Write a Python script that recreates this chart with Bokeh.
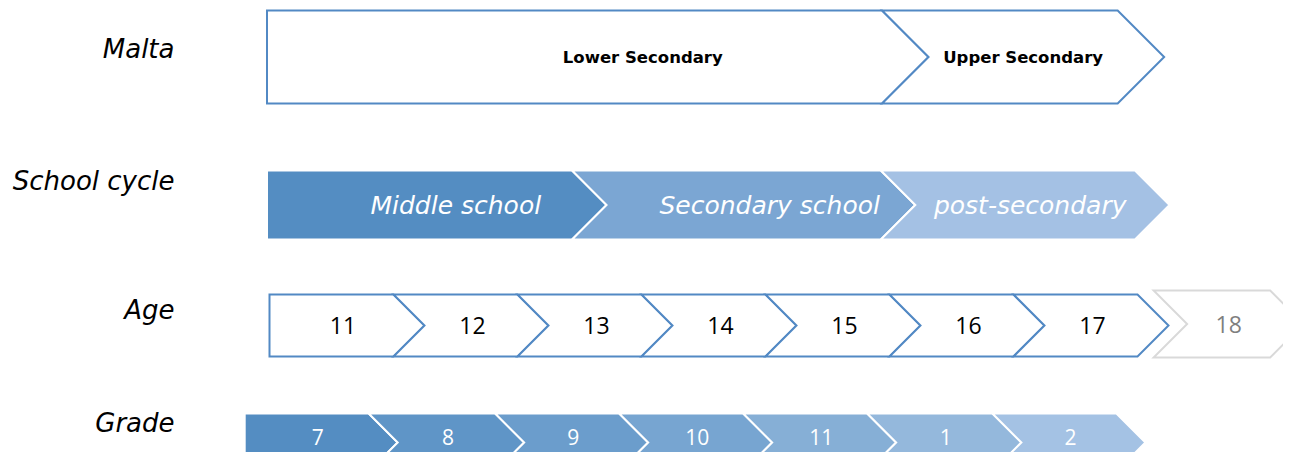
from bokeh.plotting import figure
from bokeh.models import Range1d
from bokeh.core.properties import value
from bokeh.embed import file_html
from bokeh.resources import INLINE

# ---------------- data (x in years of age) ----------------
row_labels = ["Malta", "School cycle", "Age", "Grade"]

malta_levels = ["Lower Secondary", "Upper Secondary"]
malta_start = [10.98, 15.94]
malta_end = [15.94, 17.84]

cycle_names = ["Middle school", "Secondary school", "post-secondary"]
cycle_start = [10.98, 13.44, 15.93]
cycle_end = [13.44, 15.93, 17.98]

ages = [11, 12, 13, 14, 15, 16, 17]
age_extra = [18]
age_extra_start = [18.13]
age_extra_end = [19.07]

grades = ["7", "8", "9", "10", "11", "1", "2"]
grade_start = [10.80, 11.80, 12.82, 13.82, 14.82, 15.82, 16.83]
grade_end = [11.80, 12.82, 13.82, 14.82, 15.82, 16.83, 17.83]

# ---------------- layout / style ----------------
W, H = 1283, 452
PX = 124.0                      # pixels per year
X0 = 11 - 269 / PX
X1 = X0 + W / PX

BLUE_LINE = "#5289C4"
CYCLE_COLORS = ["#548DC2", "#7BA6D3", "#A4C1E4"]
GRADE_COLORS = ["#548DC2", "#5F95C7", "#6B9DCC", "#77A5D1", "#86AFD6", "#94B8DC", "#A4C2E4"]

# row geometry in pixels from the top: (centre y, half height)
ROW_MALTA = (56.5, 46.5)
ROW_CYCLE = (204.5, 34.5)
ROW_AGE = (325.0, 31.0)
ROW_AGE_X = (323.5, 33.5)
ROW_GRADE = (442.0, 29.0)

p = figure(width=W, height=H, x_range=Range1d(X0, X1), y_range=Range1d(H, 0),
           output_backend="svg", toolbar_location=None,
           min_border=0, min_border_left=0, min_border_right=0,
           min_border_top=0, min_border_bottom=0)
p.axis.visible = False
p.grid.visible = False
p.outline_line_color = None
p.background_fill_color = "white"
p.border_fill_color = "white"


def chevrons(starts, ends, row, first_flat=True):
    yc, h = row
    d = h / PX
    xs, ys = [], []
    for i, (a, b) in enumerate(zip(starts, ends)):
        if i == 0 and first_flat:
            xs.append([a, b, b + d, b, a])
            ys.append([yc - h, yc - h, yc, yc + h, yc + h])
        else:
            xs.append([a, b, b + d, b, a, a + d])
            ys.append([yc - h, yc - h, yc, yc + h, yc + h, yc])
    return xs, ys


# Malta row (outlined)
xs, ys = chevrons(malta_start, malta_end, ROW_MALTA)
p.patches(xs, ys, fill_color="white", line_color=BLUE_LINE, line_width=2, line_join="miter")

# School cycle row (filled)
xs, ys = chevrons(cycle_start, cycle_end, ROW_CYCLE)
p.patches(xs, ys, fill_color=CYCLE_COLORS, line_color="white", line_width=2, line_join="miter")

# Age row (outlined)
age_start = [float(a) for a in ages]
age_end = [float(a + 1) for a in ages]
xs, ys = chevrons(age_start, age_end, ROW_AGE)
p.patches(xs, ys, fill_color="white", line_color=BLUE_LINE, line_width=2, line_join="miter")
xs, ys = chevrons(age_extra_start, age_extra_end, ROW_AGE_X, first_flat=False)
p.patches(xs, ys, fill_color="white", line_color="#D9D9D9", line_width=2, line_join="miter")

# Grade row (filled)
xs, ys = chevrons(grade_start, grade_end, ROW_GRADE)
p.patches(xs, ys, fill_color=GRADE_COLORS, line_color="white", line_width=2, line_join="miter")


def centres(starts, ends, row, nudges_px):
    d = row[1] / PX
    return [(a + b + d) / 2 + n / PX for a, b, n in zip(starts, ends, nudges_px)]


# row labels
lab_x = X0 + 174 / PX
p.text(x=[lab_x] * 4, y=[48, 180, 309, 422], text=row_labels,
       text_align="right", text_baseline="middle",
       text_font=value("DejaVu Sans"), text_font_style="italic",
       text_font_size="26px", text_color="black")

# Malta labels
p.text(x=centres(malta_start, malta_end, ROW_MALTA, [45, 0]),
       y=[ROW_MALTA[0]] * 2, text=malta_levels,
       text_align="center", text_baseline="middle",
       text_font=value("DejaVu Sans"), text_font_style="bold",
       text_font_size="16.5px", text_color="black")

# School cycle labels
p.text(x=centres(cycle_start, cycle_end, ROW_CYCLE, [19, 26, 5]),
       y=[ROW_CYCLE[0]] * 3, text=cycle_names,
       text_align="center", text_baseline="middle",
       text_font=value("DejaVu Sans"), text_font_style="italic",
       text_font_size="25px", text_color="white")

# Age labels
p.text(x=centres(age_start, age_end, ROW_AGE, [-4] + [1.5] * 6),
       y=[ROW_AGE[0]] * len(ages), text=[str(a) for a in ages],
       text_align="center", text_baseline="middle",
       text_font=value("Open Sans"), text_font_size="23px", text_color="black")
p.text(x=centres(age_extra_start, age_extra_end, ROW_AGE_X, [0]),
       y=[ROW_AGE_X[0]], text=[str(a) for a in age_extra],
       text_align="center", text_baseline="middle",
       text_font=value("Open Sans"), text_font_size="23px", text_color="#7F7F7F")

# Grade labels (kept just inside the bottom edge)
p.text(x=centres(grade_start, grade_end, ROW_GRADE, [-3.5] + [1.5] * 6),
       y=[ROW_GRADE[0] - 6] * len(grades), text=grades,
       text_align="center", text_baseline="middle",
       text_font=value("Open Sans"), text_font_size="21px", text_color="white")

open("out.html", "w").write(file_html(p, INLINE))
